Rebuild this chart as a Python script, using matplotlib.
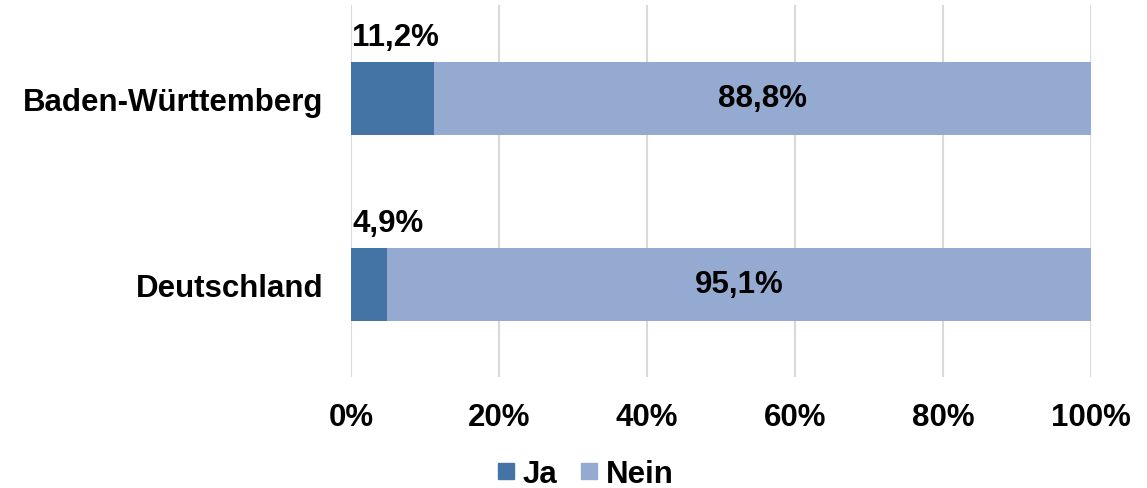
import matplotlib.pyplot as plt
from matplotlib.lines import Line2D

plt.rcParams['font.family'] = ['Liberation Sans', 'DejaVu Sans']
plt.rcParams['font.weight'] = 'bold'

regions = ["Deutschland", "Baden-Württemberg"]
ja = [4.9, 11.2]
nein = [95.1, 88.8]
ja_labels = ["4,9%", "11,2%"]
nein_labels = ["95,1%", "88,8%"]
ticks = [0, 20, 40, 60, 80, 100]
tick_labels = ["0%", "20%", "40%", "60%", "80%", "100%"]

c_ja = "#4473A6"
c_nein = "#95AAD1"

fig = plt.figure(figsize=(11.47, 4.89), dpi=100)
ax = fig.add_axes([0.306, 0.226, 0.645, 0.761])

y = list(range(len(regions)))
h = 0.39
ax.barh(y, ja, height=h, color=c_ja, zorder=3)
ax.barh(y, nein, left=ja, height=h, color=c_nein, zorder=3)

fs = 22.5
for yi, j, n, jl, nl in zip(y, ja, nein, ja_labels, nein_labels):
    ax.annotate(jl, xy=(0, yi + h / 2), xytext=(1, 7.5), textcoords="offset points",
                ha="left", va="bottom", fontsize=fs, fontweight="bold", color="black")
    ax.text(j + n / 2, yi, nl, ha="center", va="center",
            fontsize=fs, fontweight="bold", color="black", zorder=4)

ax.set_xlim(0, 100)
ax.set_ylim(-0.5, 1.5)
ax.set_xticks(ticks)
ax.set_xticklabels(tick_labels, fontsize=fs, fontweight="bold")
ax.set_yticks(y)
ax.set_yticklabels(regions, fontsize=fs, fontweight="bold")
ax.tick_params(axis="x", length=0, pad=18)
ax.tick_params(axis="y", length=0, pad=20)
ax.grid(axis="x", color="#D9D9D9", linewidth=1.5, zorder=0)
for s in ax.spines.values():
    s.set_visible(False)

handles = [Line2D([], [], marker="s", linestyle="none", markersize=12, color=c_ja),
           Line2D([], [], marker="s", linestyle="none", markersize=12, color=c_nein)]
fig.legend(handles, ["Ja", "Nein"], loc="center", bbox_to_anchor=(585 / 1147, 1 - 475 / 489),
           ncol=2, frameon=False, prop={"size": fs, "weight": "bold"},
           handlelength=0.6, handletextpad=0.25, columnspacing=0.7, borderaxespad=0)

fig.savefig("out.png", dpi=100)
